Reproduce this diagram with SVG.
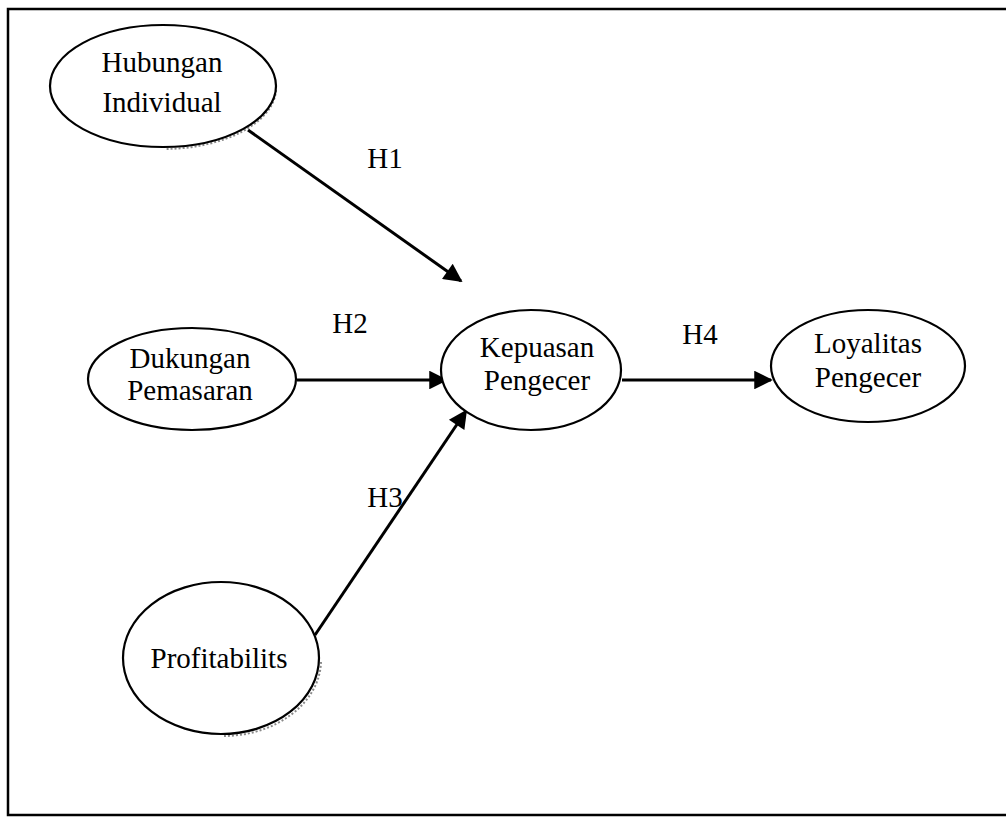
<svg xmlns="http://www.w3.org/2000/svg" width="1006" height="818" viewBox="0 0 1006 818">
  <style>
    .frame { fill: #ffffff; stroke: #000000; stroke-width: 2.5; }
    .node path.shade { fill: none; stroke: #8a8a8a; stroke-width: 2; stroke-dasharray: 2 2; }
    .node ellipse.body { fill: #ffffff; stroke: #000000; stroke-width: 2.2; }
    .label { font-family: "Liberation Serif", "Times New Roman", serif; font-size: 29px; fill: #000000; text-anchor: middle; }
    .edge { stroke: #000000; stroke-width: 3; fill: none; marker-end: url(#arrow); }
  </style>
  <defs>
    <marker id="arrow" viewBox="0 0 10 10" refX="9" refY="5" markerWidth="7.5" markerHeight="6.2" markerUnits="strokeWidth" orient="auto">
      <path d="M0,0 L10,5 L0,10 Z" fill="#000000"/>
    </marker>
  </defs>

  <!-- outer frame -->
  <rect class="frame" x="8" y="9" width="1010" height="806"/>

  <!-- connectors -->
  <g id="connectors">
    <line class="edge" x1="248" y1="130" x2="461" y2="281"/>
    <line class="edge" x1="297" y1="380" x2="446" y2="380"/>
    <line class="edge" x1="315" y1="635" x2="466" y2="411"/>
    <line class="edge" x1="622" y1="380" x2="771" y2="380"/>
    <text class="label" x="385" y="168">H1</text>
    <text class="label" x="350" y="333">H2</text>
    <text class="label" x="385" y="507">H3</text>
    <text class="label" x="700" y="344">H4</text>
  </g>

  <g id="hubungan-individual" class="node">
    <!-- soft shadow along the lower right rim -->
    <path class="shade" d="M276,90 A113,61 0 0 1 165,149"/>
    <ellipse class="body" cx="163" cy="86" rx="113" ry="61"/>
    <text class="label" x="162" y="72">Hubungan</text>
    <text class="label" x="162" y="112">Individual</text>
  </g>

  <g id="dukungan-pemasaran" class="node">
    <ellipse class="body" cx="192" cy="379" rx="104" ry="51"/>
    <text class="label" x="190" y="368">Dukungan</text>
    <text class="label" x="190" y="400">Pemasaran</text>
  </g>

  <g id="kepuasan-pengecer" class="node">
    <ellipse class="body" cx="531" cy="370" rx="90" ry="60"/>
    <text class="label" x="537" y="357">Kepuasan</text>
    <text class="label" x="537" y="390">Pengecer</text>
  </g>

  <g id="loyalitas-pengecer" class="node">
    <ellipse class="body" cx="868" cy="366" rx="97" ry="56"/>
    <text class="label" x="868" y="353">Loyalitas</text>
    <text class="label" x="868" y="387">Pengecer</text>
  </g>

  <g id="profitabilits" class="node">
    <!-- soft shadow along the lower right rim -->
    <path class="shade" d="M321,662 A98,76 0 0 1 222,736"/>
    <ellipse class="body" cx="221" cy="658" rx="98" ry="76"/>
    <text class="label" x="219" y="668">Profitabilits</text>
  </g>
</svg>
